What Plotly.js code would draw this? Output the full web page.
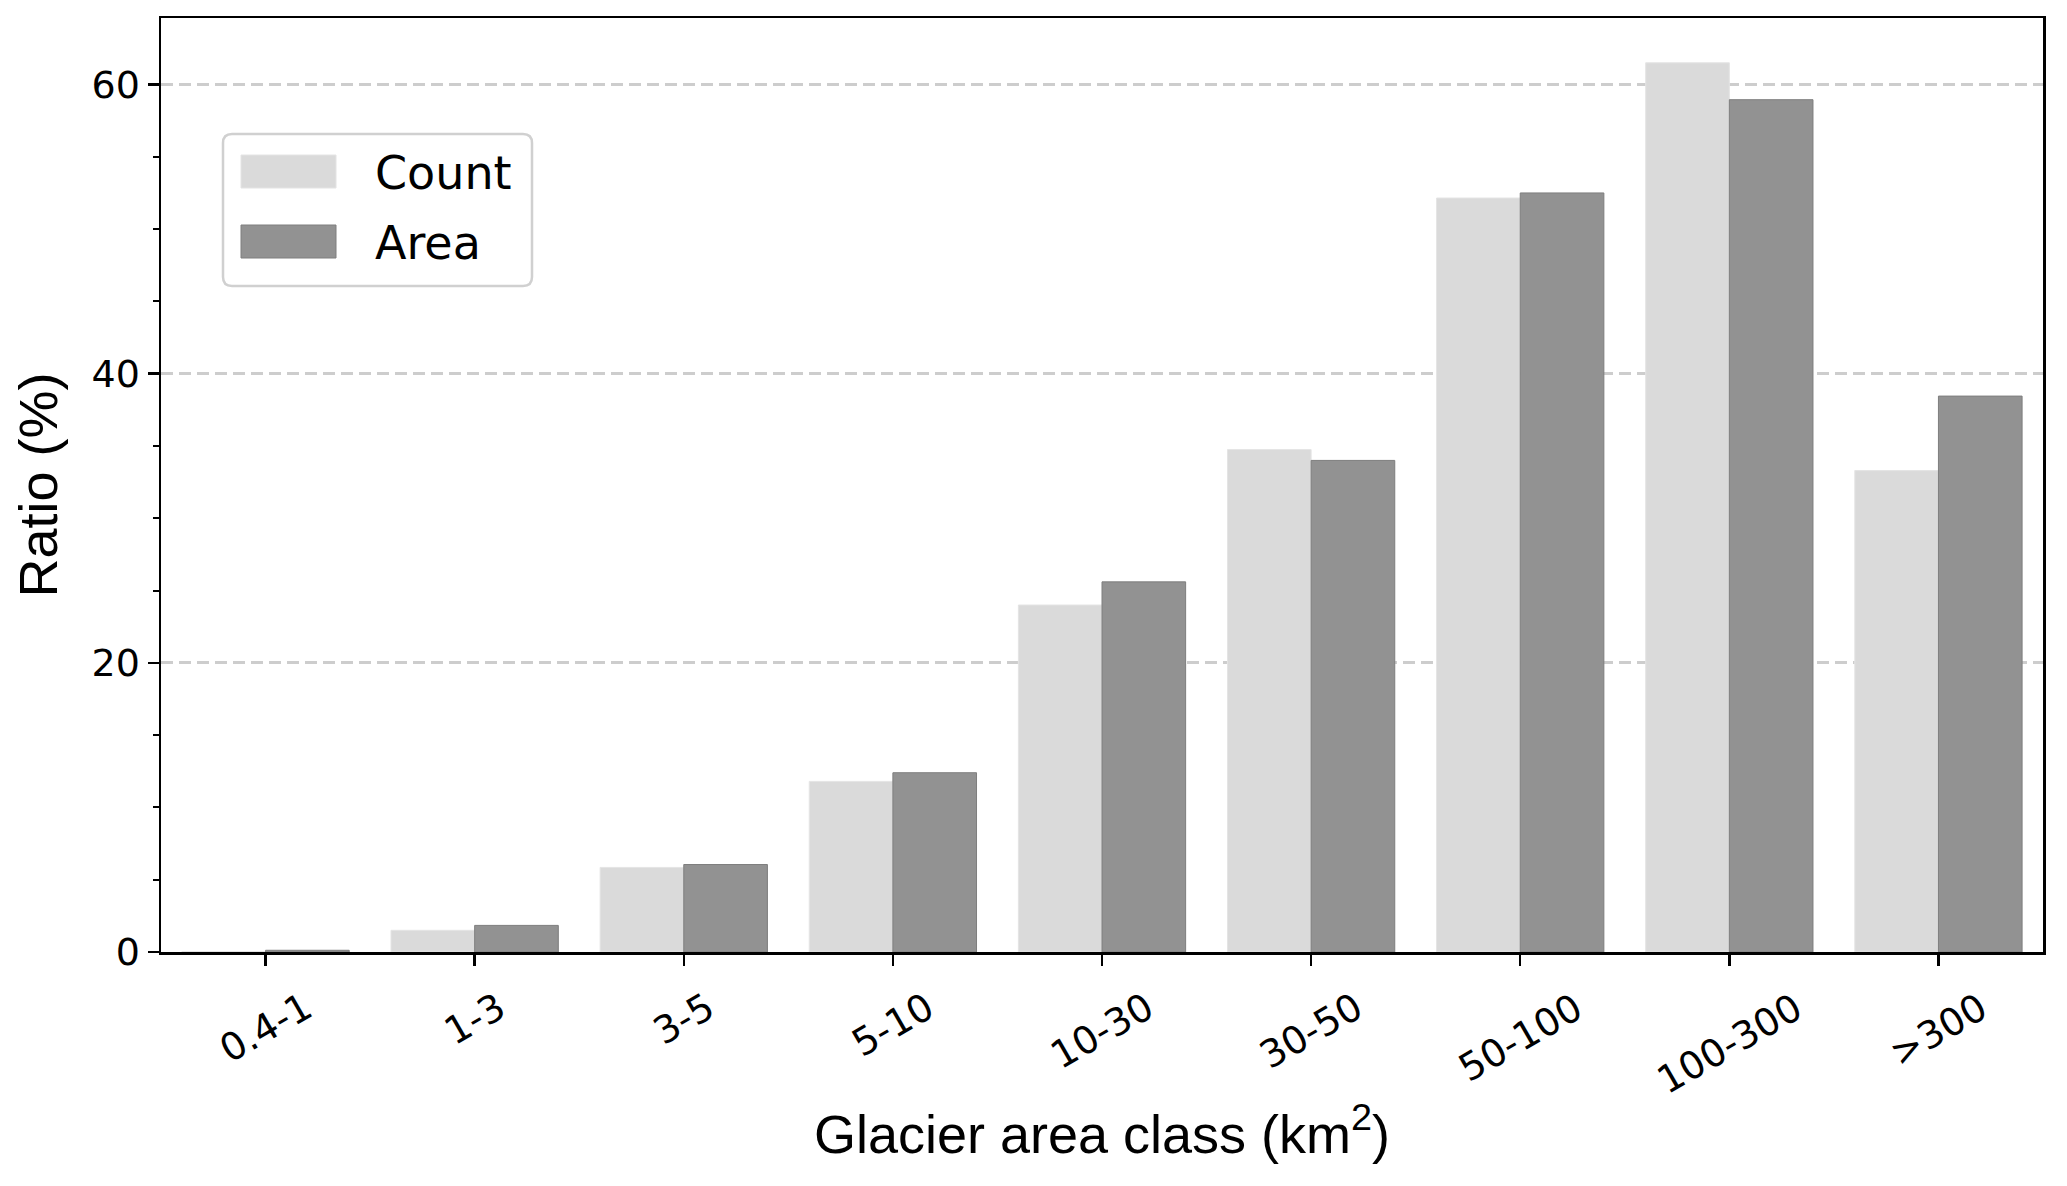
<!DOCTYPE html>
<html>
<head>
<meta charset="utf-8">
<script src="https://cdn.plot.ly/plotly-3.0.1.min.js"></script>
<style>
  html, body { margin: 0; padding: 0; background: #ffffff; }
  #chart { width: 2067px; height: 1186px; }
</style>
</head>
<body>
<div id="chart"></div>
<script>
// ---- data ----
const categories = ["0.4-1", "1-3", "3-5", "5-10", "10-30", "30-50", "50-100", "100-300", ">300"];
const countRatio = [0.03, 1.5, 5.85, 11.8, 24.0, 34.75, 52.15, 61.5, 33.3];
const areaRatio  = [0.12, 1.84, 6.05, 12.4, 25.6, 34.0, 52.5, 58.95, 38.45];
const seriesNames = ["Count", "Area"];
const yTicks = [0, 20, 40, 60];

const lightFill = "#dadada", lightEdge = "#e4e4e4";
const darkFill = "#929292", darkEdge = "#7e7e7e";

const traces = [
  { type: "bar", name: seriesNames[0], x: categories, y: countRatio,
    marker: { color: lightFill, line: { color: lightEdge, width: 1 } },
    showlegend: false, hoverinfo: "x+y+name" },
  { type: "bar", name: seriesNames[1], x: categories, y: areaRatio,
    marker: { color: darkFill, line: { color: darkEdge, width: 1 } },
    showlegend: false, hoverinfo: "x+y+name" }
];

const tickFont = { family: "DejaVu Sans", size: 38, color: "#000000" };
const titleFont = { family: "Liberation Sans, Arial", size: 54, color: "#000000" };

// rotated category labels, centred under each tick (matplotlib style)
const annotations = categories.map(c => ({
  x: c, xref: "x", y: 0, yref: "y",
  text: c, showarrow: false, textangle: -30,
  xanchor: "center", yanchor: "top", yshift: -30,
  font: tickFont
}));

// custom legend (large swatches, rounded frame)
const legendShapes = [
  { type: "path", xref: "paper", yref: "paper", xsizemode: "pixel", ysizemode: "pixel",
    xanchor: 0, yanchor: 1,
    path: "M 71,-116 L 362,-116 Q 371,-116 371,-125 L 371,-259 Q 371,-268 362,-268 L 71,-268 Q 62,-268 62,-259 L 62,-125 Q 62,-116 71,-116 Z",
    line: { color: "#d0d0d0", width: 2.5 }, fillcolor: "rgba(255,255,255,0.85)", layer: "above" },
  { type: "rect", xref: "paper", yref: "paper", xsizemode: "pixel", ysizemode: "pixel",
    xanchor: 0, yanchor: 1, x0: 80, x1: 175, y0: -137, y1: -170,
    line: { color: lightEdge, width: 1 }, fillcolor: lightFill, layer: "above" },
  { type: "rect", xref: "paper", yref: "paper", xsizemode: "pixel", ysizemode: "pixel",
    xanchor: 0, yanchor: 1, x0: 80, x1: 175, y0: -207, y1: -240,
    line: { color: darkEdge, width: 1 }, fillcolor: darkFill, layer: "above" }
];
const legendTexts = [
  { xref: "paper", yref: "paper", x: 0, y: 1, xshift: 212, yshift: -155,
    xanchor: "left", yanchor: "middle", text: seriesNames[0], showarrow: false,
    font: { family: "DejaVu Sans", size: 46, color: "#000" } },
  { xref: "paper", yref: "paper", x: 0, y: 1, xshift: 212, yshift: -225,
    xanchor: "left", yanchor: "middle", text: seriesNames[1], showarrow: false,
    font: { family: "DejaVu Sans", size: 46, color: "#000" } }
];

const layout = {
  width: 2067, height: 1186,
  margin: { l: 161, r: 24, t: 18, b: 234, pad: 0 },
  paper_bgcolor: "#ffffff", plot_bgcolor: "#ffffff",
  barmode: "group", bargap: 0.2, bargroupgap: 0,
  showlegend: false,
  xaxis: {
    type: "category", range: [-0.5, 8.5], autorange: false,
    showline: true, mirror: true, linecolor: "#000", linewidth: 2.5,
    ticks: "outside", ticklen: 11, tickwidth: 2.5, tickcolor: "#000",
    showticklabels: false, showgrid: false, zeroline: false,
    title: { text: "Glacier area class (km<sup>2</sup>)", font: titleFont, standoff: 151 }
  },
  yaxis: {
    range: [0, 64.6], autorange: false,
    tickvals: yTicks, ticktext: yTicks.map(String),
    showline: true, mirror: true, linecolor: "#000", linewidth: 2.5,
    ticks: "outside", ticklen: 11, tickwidth: 2.5, tickcolor: "#000",
    tickfont: tickFont,
    minor: { dtick: 5, ticks: "outside", ticklen: 6, tickwidth: 2, tickcolor: "#000", showgrid: false },
    showgrid: true, gridcolor: "#cdcdcd", gridwidth: 3, griddash: "12px,6px",
    zeroline: false,
    title: { text: "Ratio (%)", font: titleFont, standoff: 17 }
  },
  shapes: legendShapes,
  annotations: annotations.concat(legendTexts)
};

Plotly.newPlot("chart", traces, layout, { staticPlot: true, displayModeBar: false });
</script>
</body>
</html>
